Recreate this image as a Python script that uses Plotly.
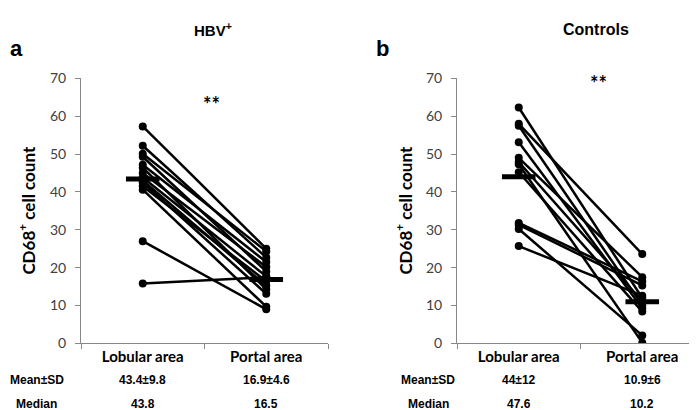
import plotly.graph_objects as go

categories = ["Lobular area", "Portal area"]

# HBV+ panel (a): paired values per subject
hbv_lobular = [57.3, 52.2, 50.1, 49.3, 47.2, 46.4, 45.0, 43.8, 43.0, 42.5, 41.5, 40.6, 27.0, 15.8]
hbv_portal = [25.0, 22.7, 24.3, 19.0, 21.5, 14.3, 20.2, 17.7, 15.2, 13.1, 16.4, 9.7, 9.0, 17.5]
hbv_mean = [43.4, 16.9]
hbv_stats_mean = ["43.4±9.8", "16.9±4.6"]
hbv_stats_median = ["43.8", "16.5"]

# Controls panel (b)
ctl_lobular = [62.3, 58.0, 57.5, 53.1, 49.0, 47.9, 47.3, 45.2, 31.8, 31.3, 30.2, 25.7]
ctl_portal = [12.0, 23.6, 10.1, 9.3, 17.5, 11.1, 0.2, 8.4, 16.4, 15.3, 2.1, 12.6]
ctl_mean = [44.0, 11.0]
ctl_stats_mean = ["44±12", "10.9±6"]
ctl_stats_median = ["47.6", "10.2"]

y_ticks = [0, 10, 20, 30, 40, 50, 60, 70]

TICK_FONT = dict(family="Lato, Open Sans, sans-serif", size=14, color="#404040")
NARROW = "Liberation Sans, Arial, sans-serif"

fig = go.Figure()


def add_panel(lob, por, means, xa, ya):
    xs, ys = [], []
    for a, b in zip(lob, por):
        xs += [categories[0], categories[1], None]
        ys += [a, b, None]
    fig.add_trace(go.Scatter(
        x=xs, y=ys, mode="lines+markers", xaxis=xa, yaxis=ya,
        line=dict(color="black", width=2.5),
        marker=dict(color="black", size=8, symbol="circle"),
        showlegend=False, hoverinfo="skip", connectgaps=False))
    fig.add_trace(go.Scatter(
        x=categories, y=means, mode="markers", xaxis=xa, yaxis=ya,
        marker=dict(symbol="line-ew", size=24, line=dict(color="black", width=5)),
        showlegend=False, hoverinfo="skip"))


add_panel(hbv_lobular, hbv_portal, hbv_mean, "x", "y")
add_panel(ctl_lobular, ctl_portal, ctl_mean, "x2", "y2")

W, H = 697, 410
ydom = [(H - 340.5) / H, (H - 64) / H]

xcommon = dict(type="category", categoryorder="array", categoryarray=categories,
               range=[-0.5, 1.5], tickson="boundaries", ticks="outside", ticklen=5,
               tickcolor="#888888", showline=True, linecolor="#888888", linewidth=1,
               showgrid=False, zeroline=False,
               tickfont=dict(family="Lato, Open Sans, sans-serif", size=15, color="black", weight="bold"))
ycommon = dict(range=[0, 70], tickvals=y_ticks, ticks="outside", ticklen=5,
               tickcolor="#888888", showline=True, linecolor="#888888", linewidth=1,
               showgrid=False, zeroline=False, tickfont=TICK_FONT, ticklabelstandoff=6)

fig.update_layout(
    width=W, height=H, margin=dict(l=0, r=0, t=0, b=0),
    paper_bgcolor="white", plot_bgcolor="white",
    xaxis=dict(domain=[73 / W, 320 / W], anchor="y", **xcommon),
    yaxis=dict(domain=ydom, anchor="x", **ycommon),
    xaxis2=dict(domain=[449 / W, 696 / W], anchor="y2", **xcommon),
    yaxis2=dict(domain=ydom, anchor="x2", **ycommon),
)

ann = []


def pa(x, y, text, size, family=NARROW, bold=True, **kw):
    ann.append(dict(x=x / W, y=(H - y) / H, xref="paper", yref="paper", text=text,
                    showarrow=False, xanchor=kw.pop("xanchor", "center"), yanchor="middle",
                    font=dict(family=family, size=size, color="black",
                              weight="bold" if bold else "normal"), **kw))


# panel letters and titles
pa(0, 33, "a", 22, xanchor="left")
pa(366, 33, "b", 22, xanchor="left")
pa(205, 13, "HBV<sup>+</sup>", 15)
pa(588, 13, "Controls", 16)
pa(203, 91, "**", 20, family="Lato, Open Sans, sans-serif")
pa(590, 69, "**", 20, family="Lato, Open Sans, sans-serif")

# y axis titles
for xp in (19, 396):
    pa(xp, 202, "CD68<sup>+</sup> cell count", 17, family="Lato, Open Sans, sans-serif",
       textangle=-90)

# stats rows
pa(29, 379, "Mean±SD", 12)
pa(29, 404, "Median", 12)
pa(420, 379, "Mean±SD", 12)
pa(420, 404, "Median", 12)

for xa, means, meds in (("x", hbv_stats_mean, hbv_stats_median),
                        ("x2", ctl_stats_mean, ctl_stats_median)):
    for i, cat in enumerate(categories):
        for yv, txt in ((379, means[i]), (404, meds[i])):
            ann.append(dict(x=cat, xref=xa, y=(H - yv) / H, yref="paper", text=txt,
                            showarrow=False, xanchor="center", yanchor="middle",
                            font=dict(family=NARROW, size=12, color="black", weight="bold")))

fig.update_layout(annotations=ann)
fig.write_html("out.html")
